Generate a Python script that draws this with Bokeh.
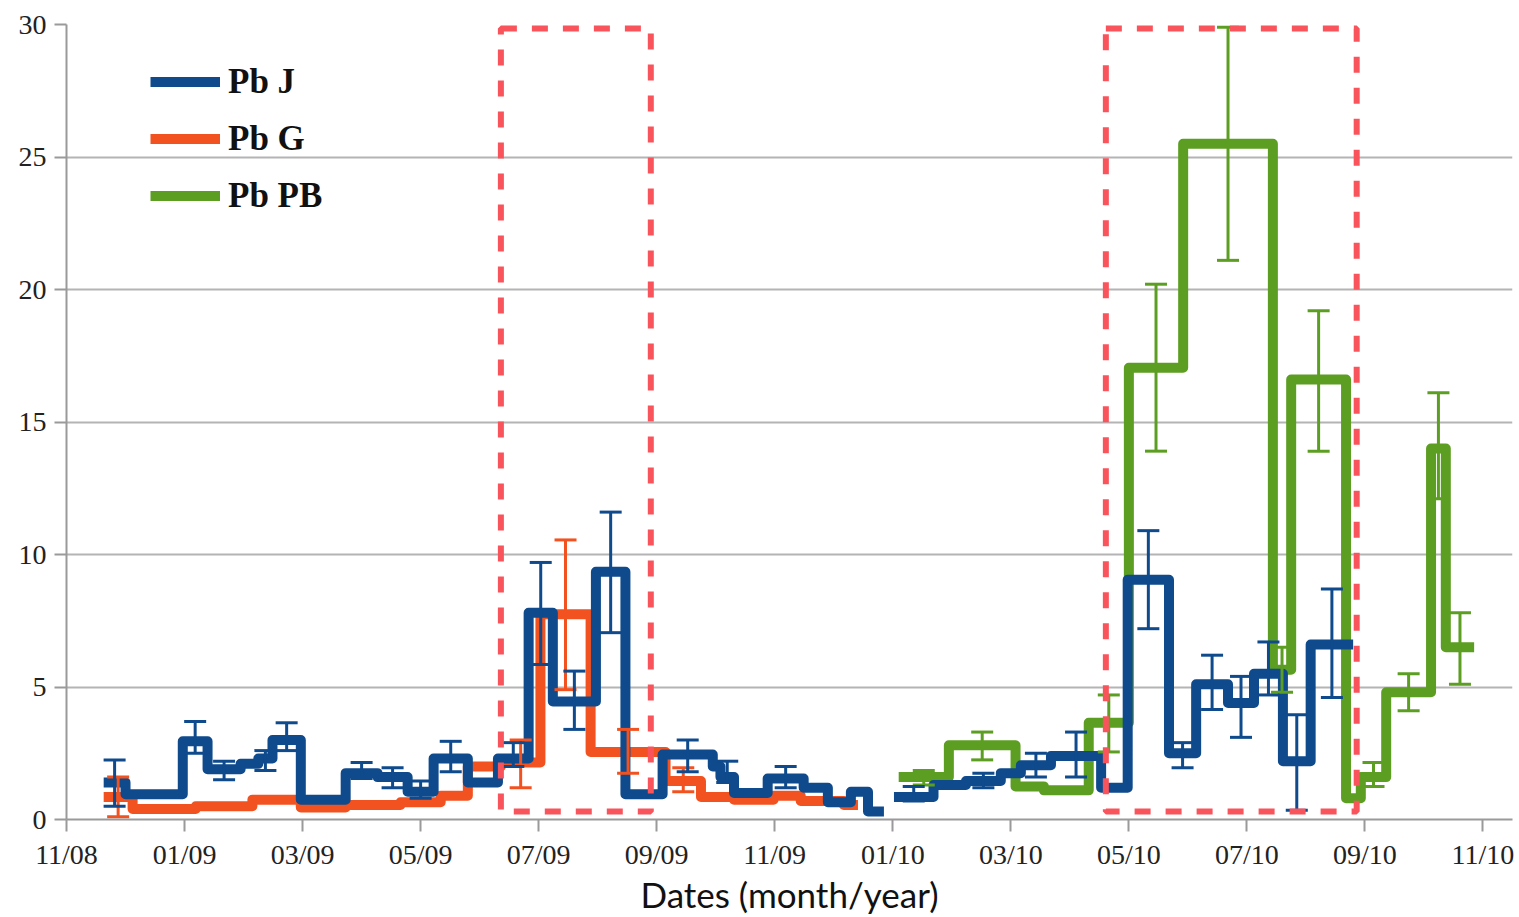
import math
from bokeh.plotting import figure
from bokeh.models import (ColumnDataSource, Whisker, TeeHead, Legend, LegendItem,
                          FixedTicker, Range1d)
from bokeh.embed import file_html
from bokeh.resources import INLINE

# x values are months since 1 November 2008
tick_labels = ["11/08", "01/09", "03/09", "05/09", "07/09", "09/09", "11/09",
               "01/10", "03/10", "05/10", "07/10", "09/10", "11/10"]
y_ticks = [0, 5, 10, 15, 20, 25, 30]
NA = float("nan")

# Pb J (blue)
pbj_start = [0.63, 1.0, 1.97, 2.39, 2.95, 3.25, 3.49, 3.97, 4.73, 5.27, 5.78, 6.22, 6.8, 7.31,
             7.83, 8.24, 8.97, 9.47, 10.1, 10.95, 11.08, 11.31, 11.88, 12.49, 12.9, 13.29, 13.58,
             14.02, 14.69, 15.24, 15.83, 16.17, 16.68, 17.53, 17.98, 18.68, 19.14, 19.68, 20.12,
             20.61, 21.08]
pbj_end = [1.0, 1.97, 2.39, 2.95, 3.25, 3.49, 3.97, 4.73, 5.27, 5.78, 6.22, 6.8, 7.31, 7.83,
           8.24, 8.97, 9.47, 10.1, 10.95, 11.08, 11.31, 11.88, 12.49, 12.9, 13.29, 13.58, 13.85,
           14.69, 15.24, 15.83, 16.17, 16.68, 17.53, 17.98, 18.68, 19.14, 19.68, 20.12, 20.61,
           21.08, 21.8]
pbj_val = [1.4, 0.95, 2.95, 1.9, 2.1, 2.3, 3.0, 0.75, 1.75, 1.6, 1.05, 2.3, 1.4, 2.3,
           7.8, 4.45, 9.35, 0.95, 2.45, 2.0, 1.6, 1.0, 1.55, 1.2, 0.65, 1.05, 0.3,
           0.85, 1.3, 1.45, 1.75, 2.05, 2.4, 1.2, 9.05, 2.5, 5.1, 4.4, 5.5, 2.2, 6.6]
pbj_lo = [0.5, NA, 2.5, 1.5, NA, 1.85, 2.6, NA, 1.55, 1.2, 0.8, 1.8, NA, 2.0,
          5.85, 3.4, 7.05, NA, 1.8, NA, 1.4, NA, 1.2, NA, NA, NA, NA,
          0.7, NA, 1.2, NA, 1.6, 1.6, NA, 7.2, 1.95, 4.15, 3.1, 4.7, 0.35, 4.6]
pbj_hi = [2.25, NA, 3.7, 2.2, NA, 2.6, 3.65, NA, 2.15, 1.95, 1.45, 2.95, NA, 2.9,
          9.7, 5.6, 11.6, NA, 3.0, NA, 2.2, NA, 2.0, NA, NA, NA, NA,
          1.25, NA, 1.75, NA, 2.5, 3.3, NA, 10.9, 2.9, 6.2, 5.4, 6.7, 3.95, 8.7]

# Pb G (orange)
pbg_start = [0.63, 1.12, 2.19, 3.15, 3.97, 4.73, 5.66, 6.34, 6.8, 7.36, 8.03, 8.88, 10.15,
             10.75, 11.31, 11.98, 12.44, 13.17]
pbg_end = [1.12, 2.19, 3.15, 3.97, 4.73, 5.66, 6.34, 6.8, 7.36, 8.03, 8.88, 10.15, 10.75,
           11.31, 11.98, 12.44, 13.17, 13.41]
pbg_val = [0.85, 0.4, 0.5, 0.75, 0.45, 0.55, 0.65, 0.9, 2.0, 2.15, 7.75, 2.55, 1.45,
           0.85, 0.75, 0.9, 0.7, 0.55]
pbg_lo = [0.1, NA, NA, NA, NA, NA, NA, NA, NA, 1.2, 4.9, 1.75, 1.05, NA, NA, NA, NA, NA]
pbg_hi = [1.6, NA, NA, NA, NA, NA, NA, NA, NA, 3.0, 10.55, 3.4, 1.95, NA, NA, NA, NA, NA]

# Pb PB (green)
pbpb_start = [14.1, 14.95, 16.08, 16.56, 17.32, 18.0, 18.92, 20.44, 20.75, 21.68, 21.93,
              22.36, 23.12, 23.37]
pbpb_end = [14.95, 16.08, 16.56, 17.32, 18.0, 18.92, 20.44, 20.75, 21.68, 21.93, 22.36,
            23.12, 23.37, 23.85]
pbpb_val = [1.6, 2.8, 1.25, 1.1, 3.65, 17.05, 25.5, 5.65, 16.6, 0.8, 1.6, 4.8, 14.0, 6.5]
pbpb_lo = [1.3, 2.25, NA, NA, 2.55, 13.9, 21.1, 4.8, 13.9, NA, 1.25, 4.1, 12.1, 5.1]
pbpb_hi = [1.85, 3.3, NA, NA, 4.7, 20.2, 29.9, 6.5, 19.2, NA, 2.15, 5.5, 16.1, 7.8]

# highlighted periods (red dashed frames)
hl_start = [7.36, 17.61]
hl_end = [9.9, 21.86]
hl_bottom = [0.3, 0.3]
hl_top = [29.85, 29.85]

BLUE = "#0E4A8C"
ORANGE = "#F2521F"
GREEN = "#5C9E22"
RED = "#F9545C"


def step_xy(starts, ends, vals):
    xs, ys = [], []
    for i, (s, e, v) in enumerate(zip(starts, ends, vals)):
        if i > 0 and s - ends[i - 1] > 0.05:
            xs.append(NA)
            ys.append(NA)
        xs += [s, e]
        ys += [v, v]
    return xs, ys


def err_source(starts, ends, lo, hi):
    b, l, h = [], [], []
    for s, e, a, c in zip(starts, ends, lo, hi):
        if not (math.isnan(a) or math.isnan(c)):
            b.append((s + e) / 2)
            l.append(a)
            h.append(c)
    return ColumnDataSource(dict(base=b, lower=l, upper=h))


p = figure(width=1518, height=917, x_range=Range1d(0, 24.5), y_range=Range1d(0, 30),
           output_backend="svg", toolbar_location=None,
           min_border_left=66, min_border_right=6, min_border_top=24, min_border_bottom=95)
p.background_fill_color = "white"
p.border_fill_color = "white"
p.outline_line_color = None

series = [
    ("Pb PB", pbpb_start, pbpb_end, pbpb_val, pbpb_lo, pbpb_hi, GREEN),
    ("Pb G", pbg_start, pbg_end, pbg_val, pbg_lo, pbg_hi, ORANGE),
    ("Pb J", pbj_start, pbj_end, pbj_val, pbj_lo, pbj_hi, BLUE),
]
renderers = {}
for name, st, en, va, lo, hi, col in series:
    xs, ys = step_xy(st, en, va)
    r = p.line(xs, ys, line_color=col, line_width=10, line_join="round", line_cap="butt")
    renderers[name] = r
    src = err_source(st, en, lo, hi)
    w = Whisker(source=src, base="base", lower="lower", upper="upper", dimension="height",
                line_color=col, line_width=3, level="glyph",
                upper_head=TeeHead(size=22, line_color=col, line_width=3),
                lower_head=TeeHead(size=22, line_color=col, line_width=3))
    p.add_layout(w)

hl = p.quad(left=hl_start, right=hl_end, bottom=hl_bottom, top=hl_top,
            fill_alpha=0, line_color=RED, line_width=6, line_dash="16 15")
hl.level = "overlay"

legend = Legend(items=[LegendItem(label="Pb J", renderers=[renderers["Pb J"]]),
                       LegendItem(label="Pb G", renderers=[renderers["Pb G"]]),
                       LegendItem(label="Pb PB", renderers=[renderers["Pb PB"]])],
                location=(84, 595), orientation="vertical",
                padding=0, spacing=0, margin=0,
                glyph_width=70, glyph_height=57, label_height=57, label_standoff=8,
                label_text_font="Liberation Serif", label_text_font_style="bold",
                label_text_font_size="35px", label_text_color="#111111",
                background_fill_alpha=0, border_line_color=None)
p.add_layout(legend, "center")

# axes
p.xaxis.ticker = FixedTicker(ticks=[2 * i for i in range(len(tick_labels))])
p.xaxis.major_label_overrides = {2 * i: lab for i, lab in enumerate(tick_labels)}
p.yaxis.ticker = FixedTicker(ticks=y_ticks)
for ax in (p.xaxis, p.yaxis):
    ax.axis_line_color = "#9a9a9a"
    ax.axis_line_width = 2
    ax.major_tick_line_color = "#9a9a9a"
    ax.major_tick_line_width = 2
    ax.major_tick_in = 0
    ax.major_tick_out = 12
    ax.minor_tick_line_color = None
    ax.major_label_text_font = "Liberation Serif"
    ax.major_label_text_font_size = "28px"
    ax.major_label_text_color = "#222222"
p.yaxis.major_label_standoff = 8
p.xaxis.major_label_standoff = 7
p.xaxis.axis_label = "Dates (month/year)"
p.xaxis.axis_label_text_font = "Lato"
p.xaxis.axis_label_text_font_style = "normal"
p.xaxis.axis_label_text_font_size = "35px"
p.xaxis.axis_label_text_color = "#111111"
p.xaxis.axis_label_standoff = 0

p.xgrid.visible = False
p.ygrid.grid_line_color = "#b4b4b4"
p.ygrid.grid_line_width = 2

open("out.html", "w").write(file_html(p, INLINE))
